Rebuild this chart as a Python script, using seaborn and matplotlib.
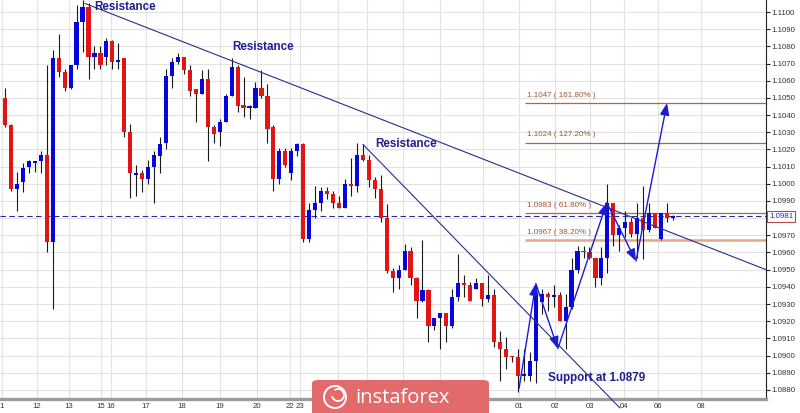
import numpy as np
import pandas as pd
import seaborn as sns
import matplotlib
matplotlib.use("Agg")
import matplotlib.pyplot as plt
from matplotlib.patches import FancyBboxPatch, Ellipse, Arc

# ---------------- data (EURUSD-like 4H candles) ----------------
opens = [1.1050, 1.1034, 1.0997, 1.1001, 1.1010, 1.1012, 1.1013, 1.1017, 1.0966, 1.1073,
         1.1065, 1.1056, 1.1069, 1.1094, 1.1103, 1.1074, 1.1076, 1.1074, 1.1083, 1.1071,
         1.1073, 1.1030, 1.1005, 1.1006, 1.1003, 1.1010, 1.1016, 1.1024, 1.1063, 1.1071,
         1.1074, 1.1066, 1.1055, 1.1052, 1.1061, 1.1033, 1.1030, 1.1036, 1.1051, 1.1068,
         1.1046, 1.1044, 1.1044, 1.1056, 1.1051, 1.1033, 1.1003, 1.1019, 1.1006, 1.1019,
         1.1023, 1.0968, 1.0985, 1.0989, 1.0996, 1.0994, 1.0989, 1.0986, 1.1000, 1.0999,
         1.1017, 1.1014, 1.1002, 1.0997, 1.0980, 1.0949, 1.0945, 1.0950, 1.0961, 1.0945,
         1.0932, 1.0938, 1.0917, 1.0922, 1.0925, 1.0917, 1.0934, 1.0942, 1.0941, 1.0939,
         1.0942, 1.0933, 1.0935, 1.0908, 1.0904, 1.0900, 1.0899, 1.0888, 1.0888, 1.0897,
         1.0931, 1.0936, 1.0934, 1.0935, 1.0920, 1.0928, 1.0950, 1.0961, 1.0960, 1.0957,
         1.0945, 1.0957, 1.0989, 1.0970, 1.0974, 1.0978, 1.0971, 1.0980, 1.0973, 1.0983,
         1.0968, 1.0983, 1.0980]
highs = [1.1056, 1.1035, 1.1007, 1.1012, 1.1014, 1.1013, 1.1019, 1.1069, 1.1078, 1.1087,
         1.1067, 1.1069, 1.1104, 1.1107, 1.1105, 1.1080, 1.1080, 1.1085, 1.1084, 1.1082,
         1.1073, 1.1035, 1.1011, 1.1008, 1.1014, 1.1019, 1.1027, 1.1067, 1.1073, 1.1076,
         1.1074, 1.1069, 1.1055, 1.1066, 1.1067, 1.1034, 1.1038, 1.1052, 1.1073, 1.1069,
         1.1062, 1.1046, 1.1059, 1.1066, 1.1058, 1.1034, 1.1021, 1.1021, 1.1021, 1.1024,
         1.1024, 1.0989, 1.0999, 1.0998, 1.0998, 1.0996, 1.0993, 1.1003, 1.1015, 1.1024,
         1.1023, 1.1017, 1.1004, 1.1005, 1.0988, 1.0951, 1.0953, 1.0965, 1.0963, 1.0946,
         1.0967, 1.0939, 1.0922, 1.0925, 1.0925, 1.0939, 1.0959, 1.0947, 1.0943, 1.0945,
         1.0942, 1.0947, 1.0939, 1.0914, 1.0911, 1.0900, 1.0904, 1.0904, 1.0902, 1.0941,
         1.0939, 1.0937, 1.0941, 1.0937, 1.0936, 1.0957, 1.0964, 1.0964, 1.0963, 1.0957,
         1.0963, 1.1000, 1.0989, 1.0976, 1.0984, 1.0980, 1.0989, 1.0999, 1.0989, 1.0983,
         1.0983, 1.0989, 1.0982]
lows = [1.1033, 1.0996, 1.0984, 1.0995, 1.1006, 1.1007, 1.1006, 1.0960, 1.0927, 1.1062,
        1.1054, 1.1055, 1.1067, 1.1077, 1.1061, 1.1067, 1.1067, 1.1069, 1.1067, 1.1067,
        1.1027, 1.0992, 1.0993, 1.0995, 1.1000, 1.0989, 1.1006, 1.1020, 1.1056, 1.1070,
        1.1064, 1.1051, 1.1036, 1.1052, 1.1013, 1.1024, 1.1022, 1.1036, 1.1051, 1.1042,
        1.1039, 1.1038, 1.1044, 1.1050, 1.1024, 1.0996, 1.1000, 1.1010, 1.1002, 1.1016,
        1.0966, 1.0966, 1.0980, 1.0984, 1.0991, 1.0986, 1.0986, 1.0986, 1.0993, 1.0995,
        1.1013, 1.0998, 1.0992, 1.0978, 1.0948, 1.0937, 1.0939, 1.0950, 1.0941, 1.0922,
        1.0931, 1.0908, 1.0915, 1.0904, 1.0908, 1.0916, 1.0932, 1.0934, 1.0932, 1.0939,
        1.0929, 1.0931, 1.0905, 1.0885, 1.0892, 1.0896, 1.0879, 1.0885, 1.0885, 1.0884,
        1.0924, 1.0926, 1.0928, 1.0920, 1.0904, 1.0927, 1.0948, 1.0957, 1.0956, 1.0940,
        1.0941, 1.0948, 1.0964, 1.0961, 1.0969, 1.0969, 1.0957, 1.0956, 1.0972, 1.0974,
        1.0967, 1.0978, 1.0979]
closes = [1.1034, 1.0997, 1.1000, 1.1009, 1.1013, 1.1013, 1.1017, 1.0966, 1.1073, 1.1065,
          1.1056, 1.1069, 1.1094, 1.1103, 1.1074, 1.1076, 1.1069, 1.1083, 1.1071, 1.1072,
          1.1030, 1.1006, 1.1006, 1.1003, 1.1010, 1.1017, 1.1023, 1.1063, 1.1071, 1.1074,
          1.1066, 1.1054, 1.1052, 1.1061, 1.1033, 1.1029, 1.1036, 1.1051, 1.1068, 1.1045,
          1.1044, 1.1045, 1.1056, 1.1051, 1.1032, 1.1003, 1.1019, 1.1011, 1.1019, 1.1023,
          1.0968, 1.0985, 1.0989, 1.0996, 1.0994, 1.0989, 1.0986, 1.1000, 1.0999, 1.1017,
          1.1014, 1.1002, 1.0997, 1.0980, 1.0949, 1.0945, 1.0950, 1.0961, 1.0945, 1.0932,
          1.0938, 1.0917, 1.0922, 1.0925, 1.0917, 1.0934, 1.0942, 1.0941, 1.0932, 1.0942,
          1.0933, 1.0935, 1.0908, 1.0904, 1.0899, 1.0899, 1.0888, 1.0889, 1.0897, 1.0936,
          1.0936, 1.0934, 1.0935, 1.0920, 1.0928, 1.0950, 1.0961, 1.0960, 1.0957, 1.0945,
          1.0957, 1.0989, 1.0970, 1.0974, 1.0978, 1.0971, 1.0980, 1.0973, 1.0983, 1.0974,
          1.0983, 1.0980, 1.0981]

day_labels = ["1", "12", "13", "15", "16", "17", "18", "19", "20", "22", "23",
              "", "", "", "", "", "01", "02", "03", "04", "06", "08"]
day_ticks = [-0.5, 5.4, 10.7, 16.1, 17.8, 23.6, 29.7, 36.0, 42.3, 47.8, 49.5,
             55.9, 60.7, 66.7, 72.9, 80.1, 86.2, 92.2, 98.1, 103.8, 109.5, 116.7]

price_ticks = [round(1.0880 + 0.001 * k, 4) for k in range(23)]
current_price = 1.0981

fib_levels = [1.1047, 1.1024, 1.0983, 1.0967]
fib_pcts = ["161.80%", "127.20%", "61.80%", "38.20%"]

# trend lines (candle index, price)
res_line_x = [13.4, 127.6]
res_line_y = [1.1105, 1.0950]
res2_line_x = [60.0, 103.1]
res2_line_y = [1.1023, 1.08695]

# projected zig-zag path (candle index, price)
path_x = [86.2, 89.0, 92.7, 100.9, 105.8, 111.0]
path_y = [1.0881, 1.0942, 1.0904, 1.0989, 1.0955, 1.1047]

notes = ["Resistance", "Resistance", "Resistance", "Support at 1.0879"]
notes_x = [14.9, 38.1, 62.0, 91.0]
notes_y = [1.11028, 1.10796, 1.10232, 1.08870]

# ---------------- style ----------------
sns.set_theme(style="white")
plt.rcParams['font.family'] = ['Liberation Sans', 'DejaVu Sans']

W, H = 800, 413
fig = plt.figure(figsize=(W / 100, H / 100), dpi=100)
fig.patch.set_facecolor("white")
ax = fig.add_axes([0, 1 - 399 / H, 766 / W, 399 / H])
ax.set_facecolor("white")

df = pd.DataFrame({"o": opens, "h": highs, "l": lows, "c": closes})
df["i"] = np.arange(len(df))
up = df["c"] >= df["o"]

ax.set_xlim(-0.84, 127.6)
ax.set_ylim(1.08747, 1.11070)

# grid
ax.set_xticks(day_ticks)
ax.set_xticklabels(day_labels)
ax.set_yticks(price_ticks)
ax.set_yticklabels(["" if abs(p - 1.0980) < 1e-6 else f"{p:.4f}" for p in price_ticks])
ax.grid(True, color="#e2e2e2", lw=0.8, zorder=0)
ax.set_axisbelow(True)

# fib levels
fib_x0 = 87.2
for lvl, pct, k in zip(fib_levels, fib_pcts, range(4)):
    if k < 3:
        ax.hlines(lvl, fib_x0, 127.6, color="#b4653f", lw=0.9, zorder=1.5)
    else:
        ax.hlines(lvl, fib_x0, 127.6, color="#e0a88a", lw=1.8, zorder=1.5)
    ax.annotate(f"{lvl:.4f} ( {pct} )", (fib_x0 + 0.3, lvl), xytext=(0, 5.6),
                textcoords="offset points", fontsize=5.8, color="#a05530",
                ha="left", va="center", zorder=6)

# current price dashed line
ax.axhline(current_price, color="#2b2b8c", lw=0.8, ls=(0, (5, 3)), zorder=2)

# candles
ax.vlines(df["i"], df["l"], df["h"], color="#1a1a1a", lw=0.8, zorder=3)
body_bottom = np.minimum(df["o"], df["c"])
body_height = np.maximum((df["c"] - df["o"]).abs(), 0.00007)
ax.bar(df["i"], body_height, bottom=body_bottom, width=0.7,
       color=np.where(up, "#0505e0", "#e41414"), linewidth=0, zorder=4)

# trend lines
ax.plot(res_line_x, res_line_y, color="#2c2c8e", lw=0.8, zorder=5)
ax.plot(res2_line_x, res2_line_y, color="#2c2c8e", lw=0.8, zorder=5, clip_on=False)

# zig-zag arrows
for k in range(len(path_x) - 1):
    ax.annotate("", xy=(path_x[k + 1], path_y[k + 1]), xytext=(path_x[k], path_y[k]),
                arrowprops=dict(arrowstyle="-|>,head_length=0.9,head_width=0.35",
                                mutation_scale=8, color="#1c1cd4", lw=1.0,
                                shrinkA=0, shrinkB=0), zorder=7)

# notes
for t, x, y in zip(notes, notes_x, notes_y):
    ax.text(x, y, t, fontsize=8.4, fontweight="bold", color="#1f1f90",
            ha="left", va="center", zorder=8)

# axes styling
for s in ["left", "top"]:
    ax.spines[s].set_visible(False)
ax.spines["bottom"].set_color("#9c9c9c")
ax.spines["bottom"].set_linewidth(2.4)
ax.spines["right"].set_color("#222222")
ax.spines["right"].set_linewidth(0.8)
ax.yaxis.tick_right()
ax.tick_params(axis="y", which="both", right=True, left=False, length=3, width=0.8,
               color="#222222", pad=1, labelsize=5.7, labelcolor="#333333")
ax.tick_params(axis="x", which="both", bottom=True, length=0, pad=3.2,
               labelsize=5.6, labelcolor="#333333")

# current price box
ax.text(1.004, current_price, f"{current_price:.4f}", transform=ax.get_yaxis_transform(),
        ha="left", va="center", fontsize=5.7, color="#2a2a9a", clip_on=False, zorder=10,
        bbox=dict(boxstyle="square,pad=0.25", fc="white", ec="#b04a4a", lw=0.8))

# watermark logo
logo = FancyBboxPatch((312 / W, -6 / H), 177 / W, 39 / H,
                      boxstyle="round,pad=0,rounding_size=0.008",
                      transform=fig.transFigure, fc="#e36a6a", ec="none", zorder=20)
fig.add_artist(logo)
ring = Ellipse((335 / W, (H - 397) / H), 22 / W, 22 / H, transform=fig.transFigure,
               fill=False, ec="white", lw=1.4, zorder=21)
fig.add_artist(ring)
swirl = Arc((338 / W, (H - 395) / H), 12 / W, 12 / H, theta1=200, theta2=470,
            transform=fig.transFigure, color="white", lw=1.3, zorder=21)
fig.add_artist(swirl)
fig.text(355 / W, (H - 398) / H, "instaforex", color="white", fontsize=14.5,
         family="Open Sans", ha="left", va="center", zorder=22)

fig.savefig("out.png", dpi=100)
